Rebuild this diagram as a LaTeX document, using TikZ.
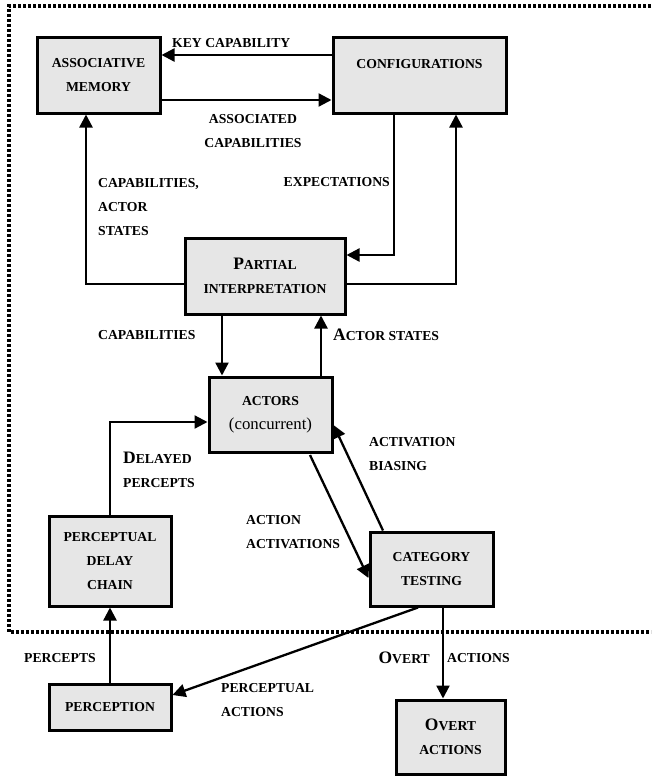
\documentclass[tikz,border=0pt]{standalone}
\usepackage{fontspec}
\setmainfont{Liberation Serif}
\usepackage{tikz}
\usetikzlibrary{arrows.meta,positioning}
\definecolor{BoxGray}{HTML}{E6E6E6}
\newcommand{\initcap}[1]{{\fontsize{17.5}{24}\selectfont #1}}

\begin{document}
\begin{tikzpicture}[x=1pt,y=-1pt,
  box/.style={draw,line width=3pt,fill=BoxGray,inner sep=0pt,align=center,
    font=\fontsize{13.7}{24}\selectfont\bfseries},
  arr/.style={-{Triangle[length=13pt,width=13pt]},line width=2.3pt},
  lbl/.style={inner sep=0pt,align=left,font=\fontsize{13.7}{24}\selectfont\bfseries}]
  \useasboundingbox (0,0) rectangle (651,776);
  \draw[line width=3.5pt,dash pattern=on 3pt off 2pt] (651,6) -| (9,632) -- (651,632);
  % boxes
  \node[box,minimum width=123,minimum height=75] (am) at (98.5,75.5) {ASSOCIATIVE\\MEMORY};
  \node[box,minimum width=173,minimum height=75] (conf) at (419.5,75.5) {CONFIGURATIONS\\~};
  \node[box,minimum width=160,minimum height=76] (pi) at (265,276) {\initcap{P}ARTIAL\\INTERPRETATION};
  \node[box,minimum width=123,minimum height=75] (act) at (270.5,414.5) {ACTORS\\\fontsize{16.8}{24}\selectfont\mdseries (concurrent)};
  \node[box,minimum width=122,minimum height=90] (pdc) at (110,561) {PERCEPTUAL\\DELAY\\CHAIN};
  \node[box,minimum width=123,minimum height=74] (ct) at (431.5,569) {CATEGORY\\TESTING};
  \node[box,minimum width=122,minimum height=46] (perc) at (110,707) {PERCEPTION};
  \node[box,minimum width=109,minimum height=74] (oa) at (450.5,737) {\initcap{O}VERT\\ACTIONS};
  % connectors
  \draw[arr] (conf.west |- 0,55) -- (am.east |- 0,55);
  \draw[arr] (am.east |- 0,100) -- (conf.west |- 0,100);
  \draw[arr] (pi.west |- 0,284) -| (am.south -| 86,0);
  \draw[arr] (pi.east |- 0,284) -| (conf.south -| 456,0);
  \draw[arr] (conf.south -| 394,0) |- (pi.east |- 0,255);
  \draw[arr] (pi.south -| 222,0) -- (act.north -| 222,0);
  \draw[arr] (act.north -| 321,0) -- (pi.south -| 321,0);
  \draw[arr] (pdc.north) |- (act.west |- 0,422);
  \draw[arr] (310,455) -- (ct.west |- 0,578);
  \draw[arr] (ct.north -| 383,0) -- (act.east |- 0,425);
  \draw[arr] (ct.south -| 418,0) -- (perc.east |- 0,695);
  \draw[arr] (ct.south -| 443,0) -- (oa.north -| 443,0);
  \draw[arr] (perc.north) -- (pdc.south);
  % labels
  \node[lbl,anchor=west] (lkey) at (172,43) {KEY CAPABILITY};
  \node[lbl,align=center] (lassoc) at (253,131) {ASSOCIATED\\CAPABILITIES};
  \node[lbl,anchor=west] (lcapst) at (98,207) {CAPABILITIES,\\ACTOR\\STATES};
  \node[lbl,anchor=east] (lexp) at (390,182) {EXPECTATIONS};
  \node[lbl,anchor=west] (lcap) at (98,335) {CAPABILITIES};
  \node[lbl,anchor=west] (lactst) at (333,335) {\initcap{A}CTOR STATES};
  \node[lbl,anchor=west] (ldel) at (123,470) {\initcap{D}ELAYED\\PERCEPTS};
  \node[lbl,anchor=west] (lbias) at (369,454) {ACTIVATION\\BIASING};
  \node[lbl,anchor=west] (lactact) at (246,532) {ACTION\\ACTIVATIONS};
  \node[lbl,anchor=west] (lperc) at (24,658) {PERCEPTS};
  \node[lbl,anchor=west] (lpact) at (221,700) {PERCEPTUAL\\ACTIONS};
  \node[lbl,anchor=east] (lovert) at (430,658) {\initcap{O}VERT};
  \node[lbl,anchor=west] (lovact) at (447,658) {ACTIONS};
\end{tikzpicture}
\end{document}
